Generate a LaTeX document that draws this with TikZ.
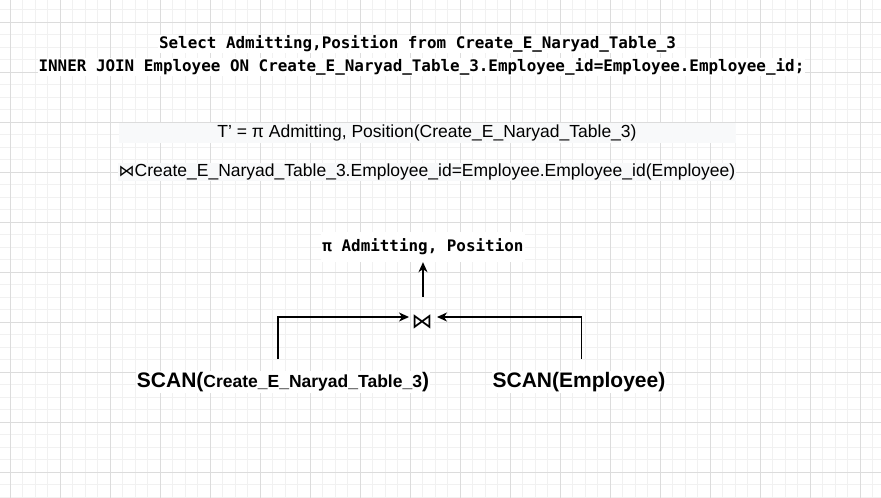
\documentclass[tikz,border=0pt]{standalone}
\usepackage{fontspec}
\setmainfont{Liberation Sans}
\newfontfamily\sqlfont{DejaVu Sans Mono}
\newfontfamily\symfont{DejaVu Sans}
\usetikzlibrary{arrows.meta}
\definecolor{gridminor}{HTML}{F1F1F1}
\definecolor{gridmajor}{HTML}{DCDCDC}
\definecolor{boxbg}{HTML}{F8F9FA}
\tikzset{
  sql/.style={font=\sqlfont\bfseries\fontsize{15.9}{18}\selectfont, fill=white, inner sep=1pt},
  rel/.style={font=\fontsize{17.5}{20}\selectfont, inner sep=1pt},
  scanlbl/.style={font=\bfseries\fontsize{17.5}{20}\selectfont, fill=white, inner sep=1pt},
  arr/.style={line width=1.3pt, -{Stealth[length=10pt,width=9pt,inset=3pt]}},
}
\begin{document}
\begin{tikzpicture}[x=1pt,y=-1pt]
\useasboundingbox (0,0) rectangle (881,498);
\fill[white] (0,0) rectangle (881,498);
% grid
\foreach \x in {-2.5,10,...,885} \draw[gridminor, line width=0.8pt] (\x,0) -- (\x,498);
\foreach \y in {-3,9.5,...,500} \draw[gridminor, line width=0.8pt] (0,\y) -- (881,\y);
\foreach \x in {10,60,...,860} \draw[gridmajor, line width=0.8pt] (\x,0) -- (\x,498);
\foreach \y in {22,72,...,472} \draw[gridmajor, line width=0.8pt] (0,\y) -- (881,\y);

% SQL
\node[sql] (s1) at (417.5,44) {Select Admitting,Position from Create\_E\_Naryad\_Table\_3};
\node[sql] (s2) at (421.5,67) {INNER JOIN Employee ON Create\_E\_Naryad\_Table\_3.Employee\_id=Employee.Employee\_id;};

% relational algebra
\fill[boxbg] (119,123) rectangle (736,143);
\node[rel] (t1) at (427,133) {T’ = π Admitting, Position(Create\_E\_Naryad\_Table\_3)};
\node[rel, fill=boxbg] (t2) at (427,172) {{\symfont\fontsize{16}{18}\selectfont ⋈}Create\_E\_Naryad\_Table\_3.Employee\_id=Employee.Employee\_id(Employee)};

% tree
\node[sql, minimum height=30pt] (p) at (423,247) {π Admitting, Position};
\node[fill=white, inner sep=1pt, font=\symfont\fontsize{21}{24}\selectfont] (j) at (422,322) {⋈};
\node[scanlbl] (sc1) at (283,382) {{\fontsize{21}{24}\selectfont SCAN(}Create\_E\_Naryad\_Table\_3{\fontsize{21}{24}\selectfont )}};
\node[scanlbl, font=\bfseries\fontsize{21}{24}\selectfont] (sc2) at (579,382) {SCAN(Employee)};

\coordinate (jt) at (423,297);
\coordinate (l1) at (278,359);
\coordinate (r1) at (581.5,359);
\coordinate (lt) at (409,317);
\coordinate (rt) at (437,317);

\draw[arr] (jt) -- (p.south);
\draw[arr] (l1) |- (lt);
\draw[arr] (r1) |- (rt);
\end{tikzpicture}
\end{document}
